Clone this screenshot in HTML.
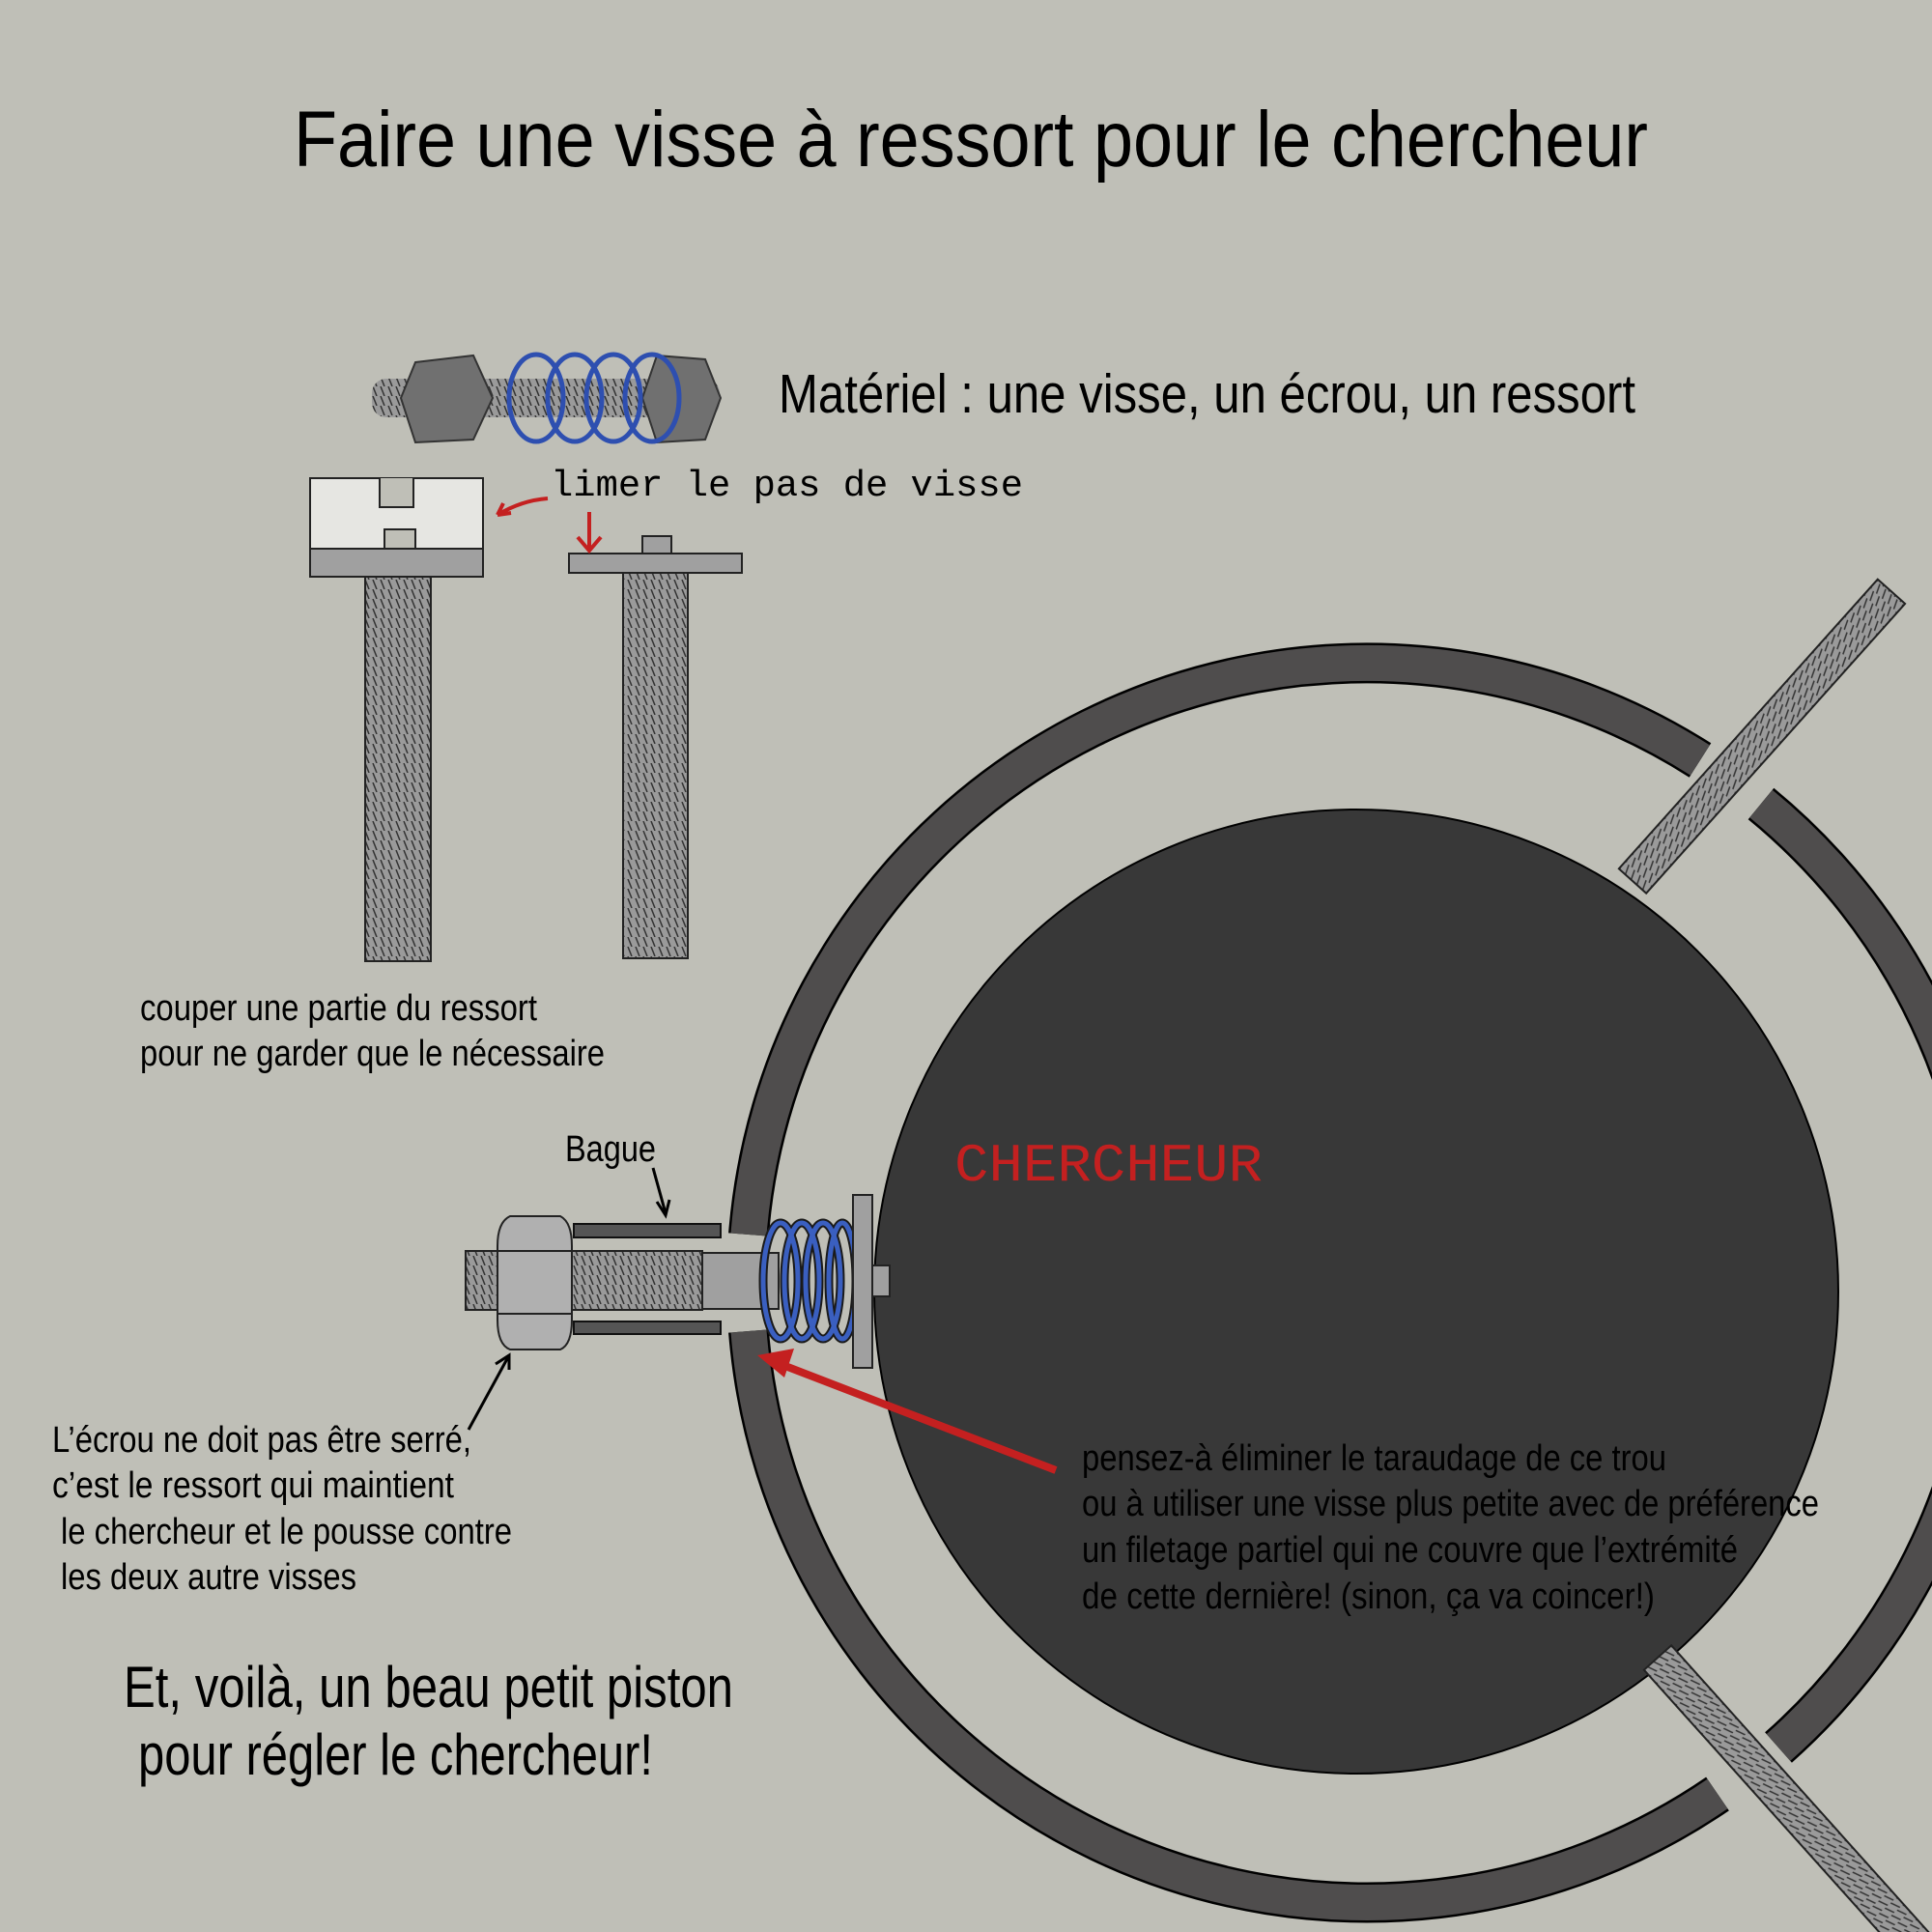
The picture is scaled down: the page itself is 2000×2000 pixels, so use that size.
<!DOCTYPE html>
<html><head><meta charset="utf-8"><style>html,body{margin:0;padding:0;background:#bfbfb7}svg{display:block}</style></head>
<body>
<svg width="2000" height="2000" viewBox="0 0 2000 2000" xmlns="http://www.w3.org/2000/svg">
<defs>
<pattern id="thr" width="10" height="8" patternUnits="userSpaceOnUse">
<rect width="10" height="8" fill="#9a9a9a"/>
<line x1="0" y1="6" x2="10" y2="2" stroke="#333" stroke-width="1.5"/>
</pattern>
<pattern id="thrv" width="8" height="10" patternUnits="userSpaceOnUse">
<rect width="8" height="10" fill="#9a9a9a"/>
<line x1="2" y1="0" x2="6" y2="10" stroke="#333" stroke-width="1.5"/>
</pattern>
</defs>
<rect width="2000" height="2000" fill="#bfbfb7"/>

<g font-family="Liberation Sans, sans-serif" fill="#000">
<text x="304" y="172" font-size="82" textLength="1402" lengthAdjust="spacingAndGlyphs">Faire une visse à ressort pour le chercheur</text>
<text x="806" y="427" font-size="57" textLength="887" lengthAdjust="spacingAndGlyphs">Matériel : une visse, un écrou, un ressort</text>
</g>

<!-- top photo approx -->
<g>
<rect x="385" y="392" width="360" height="40" fill="url(#thrv)" rx="15"/>
<polygon points="430,375 490,368 510,412 490,455 430,458 415,412" fill="#707070" stroke="#333" stroke-width="2"/>
<polygon points="680,368 730,372 746,412 730,455 680,458 665,412" fill="#707070" stroke="#333" stroke-width="2"/>
<g fill="none" stroke="#2e4fb0" stroke-width="5">
<ellipse cx="555" cy="412" rx="28" ry="45"/><ellipse cx="595" cy="412" rx="28" ry="45"/><ellipse cx="635" cy="412" rx="28" ry="45"/><ellipse cx="675" cy="412" rx="28" ry="45"/>
</g>
</g>

<!-- ring -->
<g fill="none" stroke-linecap="butt">
<g stroke="#000" stroke-width="42">
<path d="M1823,832 A642,642 0 0 1 1841,1809"/>
<path d="M1778,1857 A642,642 0 0 1 775,1378"/>
<path d="M775,1278 A642,642 0 0 1 1760,787"/>
</g>
<g stroke="#4f4d4d" stroke-width="37">
<path d="M1823,832 A642,642 0 0 1 1841,1809"/>
<path d="M1778,1857 A642,642 0 0 1 775,1378"/>
<path d="M775,1278 A642,642 0 0 1 1760,787"/>
</g>
</g>
<circle cx="1404" cy="1337" r="499" fill="#383838" stroke="#000" stroke-width="2"/>

<!-- diagonal screws -->
<g transform="translate(1690,912) rotate(-48.2)">
<rect x="0" y="-19" width="402" height="38" fill="url(#thr)" stroke="#222" stroke-width="2"/>
</g>
<g transform="translate(1716,1716) rotate(48.1)">
<rect x="0" y="-19" width="420" height="38" fill="url(#thr)" stroke="#222" stroke-width="2"/>
</g>

<!-- vertical screws -->
<rect x="378" y="597" width="68" height="398" fill="url(#thrv)" stroke="#222" stroke-width="2"/>
<path d="M321,495 H500 V568 H430 V548 H398 V568 H321 Z" fill="#e6e6e2" stroke="#222" stroke-width="2"/>
<path d="M393,495 V525 H428 V495" fill="#bfbfb7" stroke="#222" stroke-width="2"/>
<rect x="321" y="568" width="179" height="29" fill="#a0a0a0" stroke="#222" stroke-width="2"/>
<rect x="645" y="593" width="67" height="399" fill="url(#thrv)" stroke="#222" stroke-width="2"/>
<rect x="665" y="555" width="30" height="20" fill="#a0a0a0" stroke="#222" stroke-width="2"/>
<rect x="589" y="573" width="179" height="20" fill="#a0a0a0" stroke="#222" stroke-width="2"/>

<text x="570" y="513" font-family="Liberation Mono, monospace" font-size="38" textLength="489" lengthAdjust="spacingAndGlyphs">limer le pas de visse</text>
<g stroke="#c42020" stroke-width="4" fill="none">
<path d="M567,516 Q540,518 515,533"/><path d="M515,533 l14,-2 M515,533 l6,-12"/>
<path d="M610,530 V568"/><path d="M598,556 L610,570 L622,556"/>
</g>

<g font-family="Liberation Sans, sans-serif" fill="#000" font-size="38">
<text x="145" y="1056" textLength="411" lengthAdjust="spacingAndGlyphs">couper une partie du ressort</text>
<text x="145" y="1103" textLength="481" lengthAdjust="spacingAndGlyphs">pour ne garder que le nécessaire</text>
<text x="585" y="1202" textLength="94" lengthAdjust="spacingAndGlyphs">Bague</text>
<text x="54" y="1503" textLength="434" lengthAdjust="spacingAndGlyphs">L’écrou ne doit pas être serré,</text>
<text x="54" y="1550" textLength="416" lengthAdjust="spacingAndGlyphs">c’est le ressort qui maintient</text>
<text x="63" y="1598" textLength="467" lengthAdjust="spacingAndGlyphs">le chercheur et le pousse contre</text>
<text x="63" y="1645" textLength="306" lengthAdjust="spacingAndGlyphs">les deux autre visses</text>
<text x="1120" y="1522" textLength="605" lengthAdjust="spacingAndGlyphs">pensez-à éliminer le taraudage de ce trou</text>
<text x="1120" y="1569" textLength="763" lengthAdjust="spacingAndGlyphs">ou à utiliser une visse plus petite avec de préférence</text>
<text x="1120" y="1617" textLength="679" lengthAdjust="spacingAndGlyphs">un filetage partiel qui ne couvre que l’extrémité</text>
<text x="1120" y="1665" textLength="593" lengthAdjust="spacingAndGlyphs">de  cette dernière! (sinon, ça va coincer!)</text>
<text x="128" y="1767" font-size="60" textLength="631" lengthAdjust="spacingAndGlyphs">Et, voilà, un beau petit piston</text>
<text x="143" y="1837" font-size="60" textLength="533" lengthAdjust="spacingAndGlyphs">pour régler le chercheur!</text>
</g>
<text x="988" y="1222" font-family="Liberation Mono, monospace" font-size="56" fill="#c42020" textLength="319" lengthAdjust="spacingAndGlyphs">CHERCHEUR</text>

<!-- piston -->
<rect x="482" y="1295" width="245" height="61" fill="url(#thrv)" stroke="#222" stroke-width="2"/>
<rect x="594" y="1267" width="152" height="14" fill="#555" stroke="#111" stroke-width="2"/>
<rect x="594" y="1368" width="152" height="13" fill="#555" stroke="#111" stroke-width="2"/>
<rect x="727" y="1297" width="79" height="58" fill="#a0a0a0" stroke="#222" stroke-width="2"/>
<path d="M528,1259 H580 Q592,1265 592,1290 V1366 Q592,1392 580,1397 H528 Q515,1392 515,1366 V1290 Q515,1265 528,1259 Z" fill="#b0b0b0" stroke="#222" stroke-width="2"/>
<line x1="515" y1="1295" x2="592" y2="1295" stroke="#222" stroke-width="2"/>
<line x1="515" y1="1360" x2="592" y2="1360" stroke="#222" stroke-width="2"/>
<g fill="none" stroke="#1a1a1a" stroke-width="9">
<ellipse cx="808" cy="1326" rx="18" ry="60"/><ellipse cx="830" cy="1326" rx="18" ry="60"/><ellipse cx="852" cy="1326" rx="18" ry="60"/><ellipse cx="872" cy="1326" rx="14" ry="60"/>
</g>
<g fill="none" stroke="#3a5fc0" stroke-width="5">
<ellipse cx="808" cy="1326" rx="18" ry="60"/><ellipse cx="830" cy="1326" rx="18" ry="60"/><ellipse cx="852" cy="1326" rx="18" ry="60"/><ellipse cx="872" cy="1326" rx="14" ry="60"/>
</g>
<rect x="883" y="1237" width="20" height="179" fill="#a0a0a0" stroke="#222" stroke-width="2"/>
<rect x="903" y="1310" width="18" height="32" fill="#a0a0a0" stroke="#222" stroke-width="2"/>

<g stroke="#000" stroke-width="3" fill="none">
<path d="M676,1209 L689,1256"/><path d="M680,1244 L689,1258 L693,1242"/>
<path d="M485,1480 L527,1403"/><path d="M513,1412 L527,1403 L527,1418"/>
</g>
<line x1="1093" y1="1522" x2="805" y2="1411" stroke="#c42020" stroke-width="8"/>
<polygon points="784,1403 822,1396 812,1426" fill="#c42020"/>
</svg>
</body></html>
